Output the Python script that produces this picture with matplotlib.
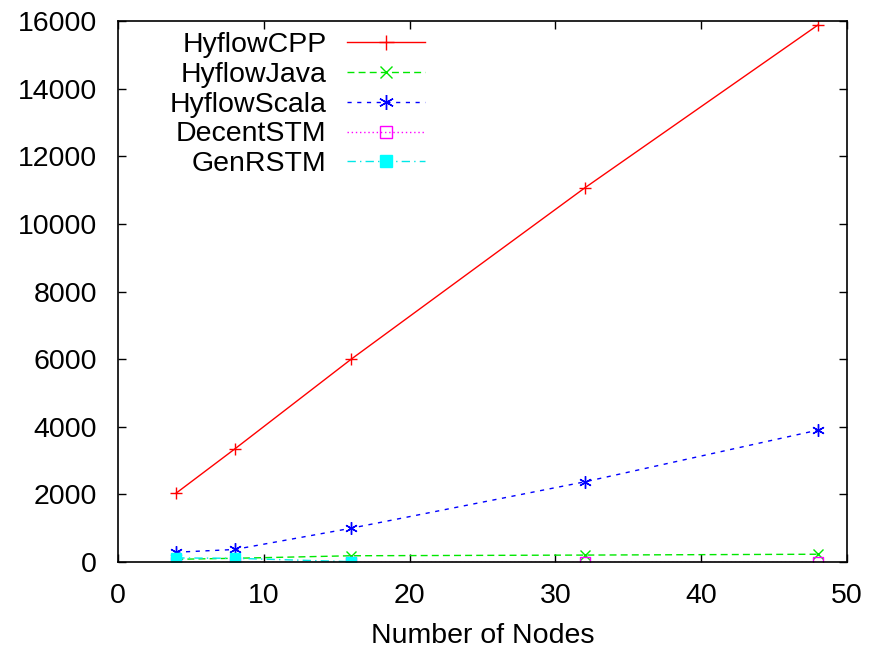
import matplotlib
matplotlib.use("Agg")
import matplotlib.pyplot as plt

plt.rcParams['font.family'] = ['Liberation Sans', 'DejaVu Sans']

nodes = [4, 8, 16, 32, 48]
hyflow_cpp = [2040, 3340, 6000, 11060, 15880]
hyflow_java = [80, 110, 185, 205, 230]
hyflow_scala = [290, 370, 1000, 2370, 3900]
decent_nodes = [4, 8, 16, 32, 48]
decent_stm = [0, 0, 0, 0, 0]
genr_nodes = [4, 8, 16]
genr_stm = [120, 110, 10]

FS = 20.5

fig = plt.figure(figsize=(8.77, 6.51), dpi=100)
ax = fig.add_axes([0.1345, 0.1367, 0.8313, 0.831])

ax.plot(nodes, hyflow_cpp, color='#ff0000', lw=1, ls='-', marker='+', ms=9, mew=1, label='HyflowCPP')
ax.plot(nodes, hyflow_java, color='#00e800', lw=1, ls=(0, (5, 3)), marker='x', ms=7, mew=1, label='HyflowJava')
ax.plot(nodes, hyflow_scala, color='#0000ff', lw=1, ls=(0, (3, 4)), marker=(6, 2, 0), ms=9, mew=1, label='HyflowScala')
ax.plot(decent_nodes, decent_stm, color='#ff00ff', lw=1, ls=(0, (1, 2)), marker='s', ms=7, mfc='none', mew=1, label='DecentSTM')
ax.plot(genr_nodes, genr_stm, color='#00e8e8', lw=1, ls=(0, (6, 3, 1, 3)), marker='s', ms=7, mfc='#00ffff', mec='#00ffff', label='GenRSTM')

ax.set_xlim(0, 50)
ax.set_ylim(0, 16000)
ax.set_xticks(range(0, 51, 10))
ax.set_yticks(range(0, 16001, 2000))
ax.tick_params(direction='in', top=True, right=True, labelsize=FS, length=6, width=1, pad=15)
for s in ax.spines.values():
    s.set_linewidth(1.2)
ax.set_xlabel('Number of Nodes', fontsize=FS, labelpad=10)

ax.legend(loc='upper right', bbox_to_anchor=(0.421, 0.979), frameon=False, markerfirst=False,
          fontsize=FS, handlelength=2.75, handletextpad=0.7, labelspacing=0.13,
          borderaxespad=0.0, borderpad=0.0, markerscale=1.2)

fig.savefig('out.png', dpi=100)
